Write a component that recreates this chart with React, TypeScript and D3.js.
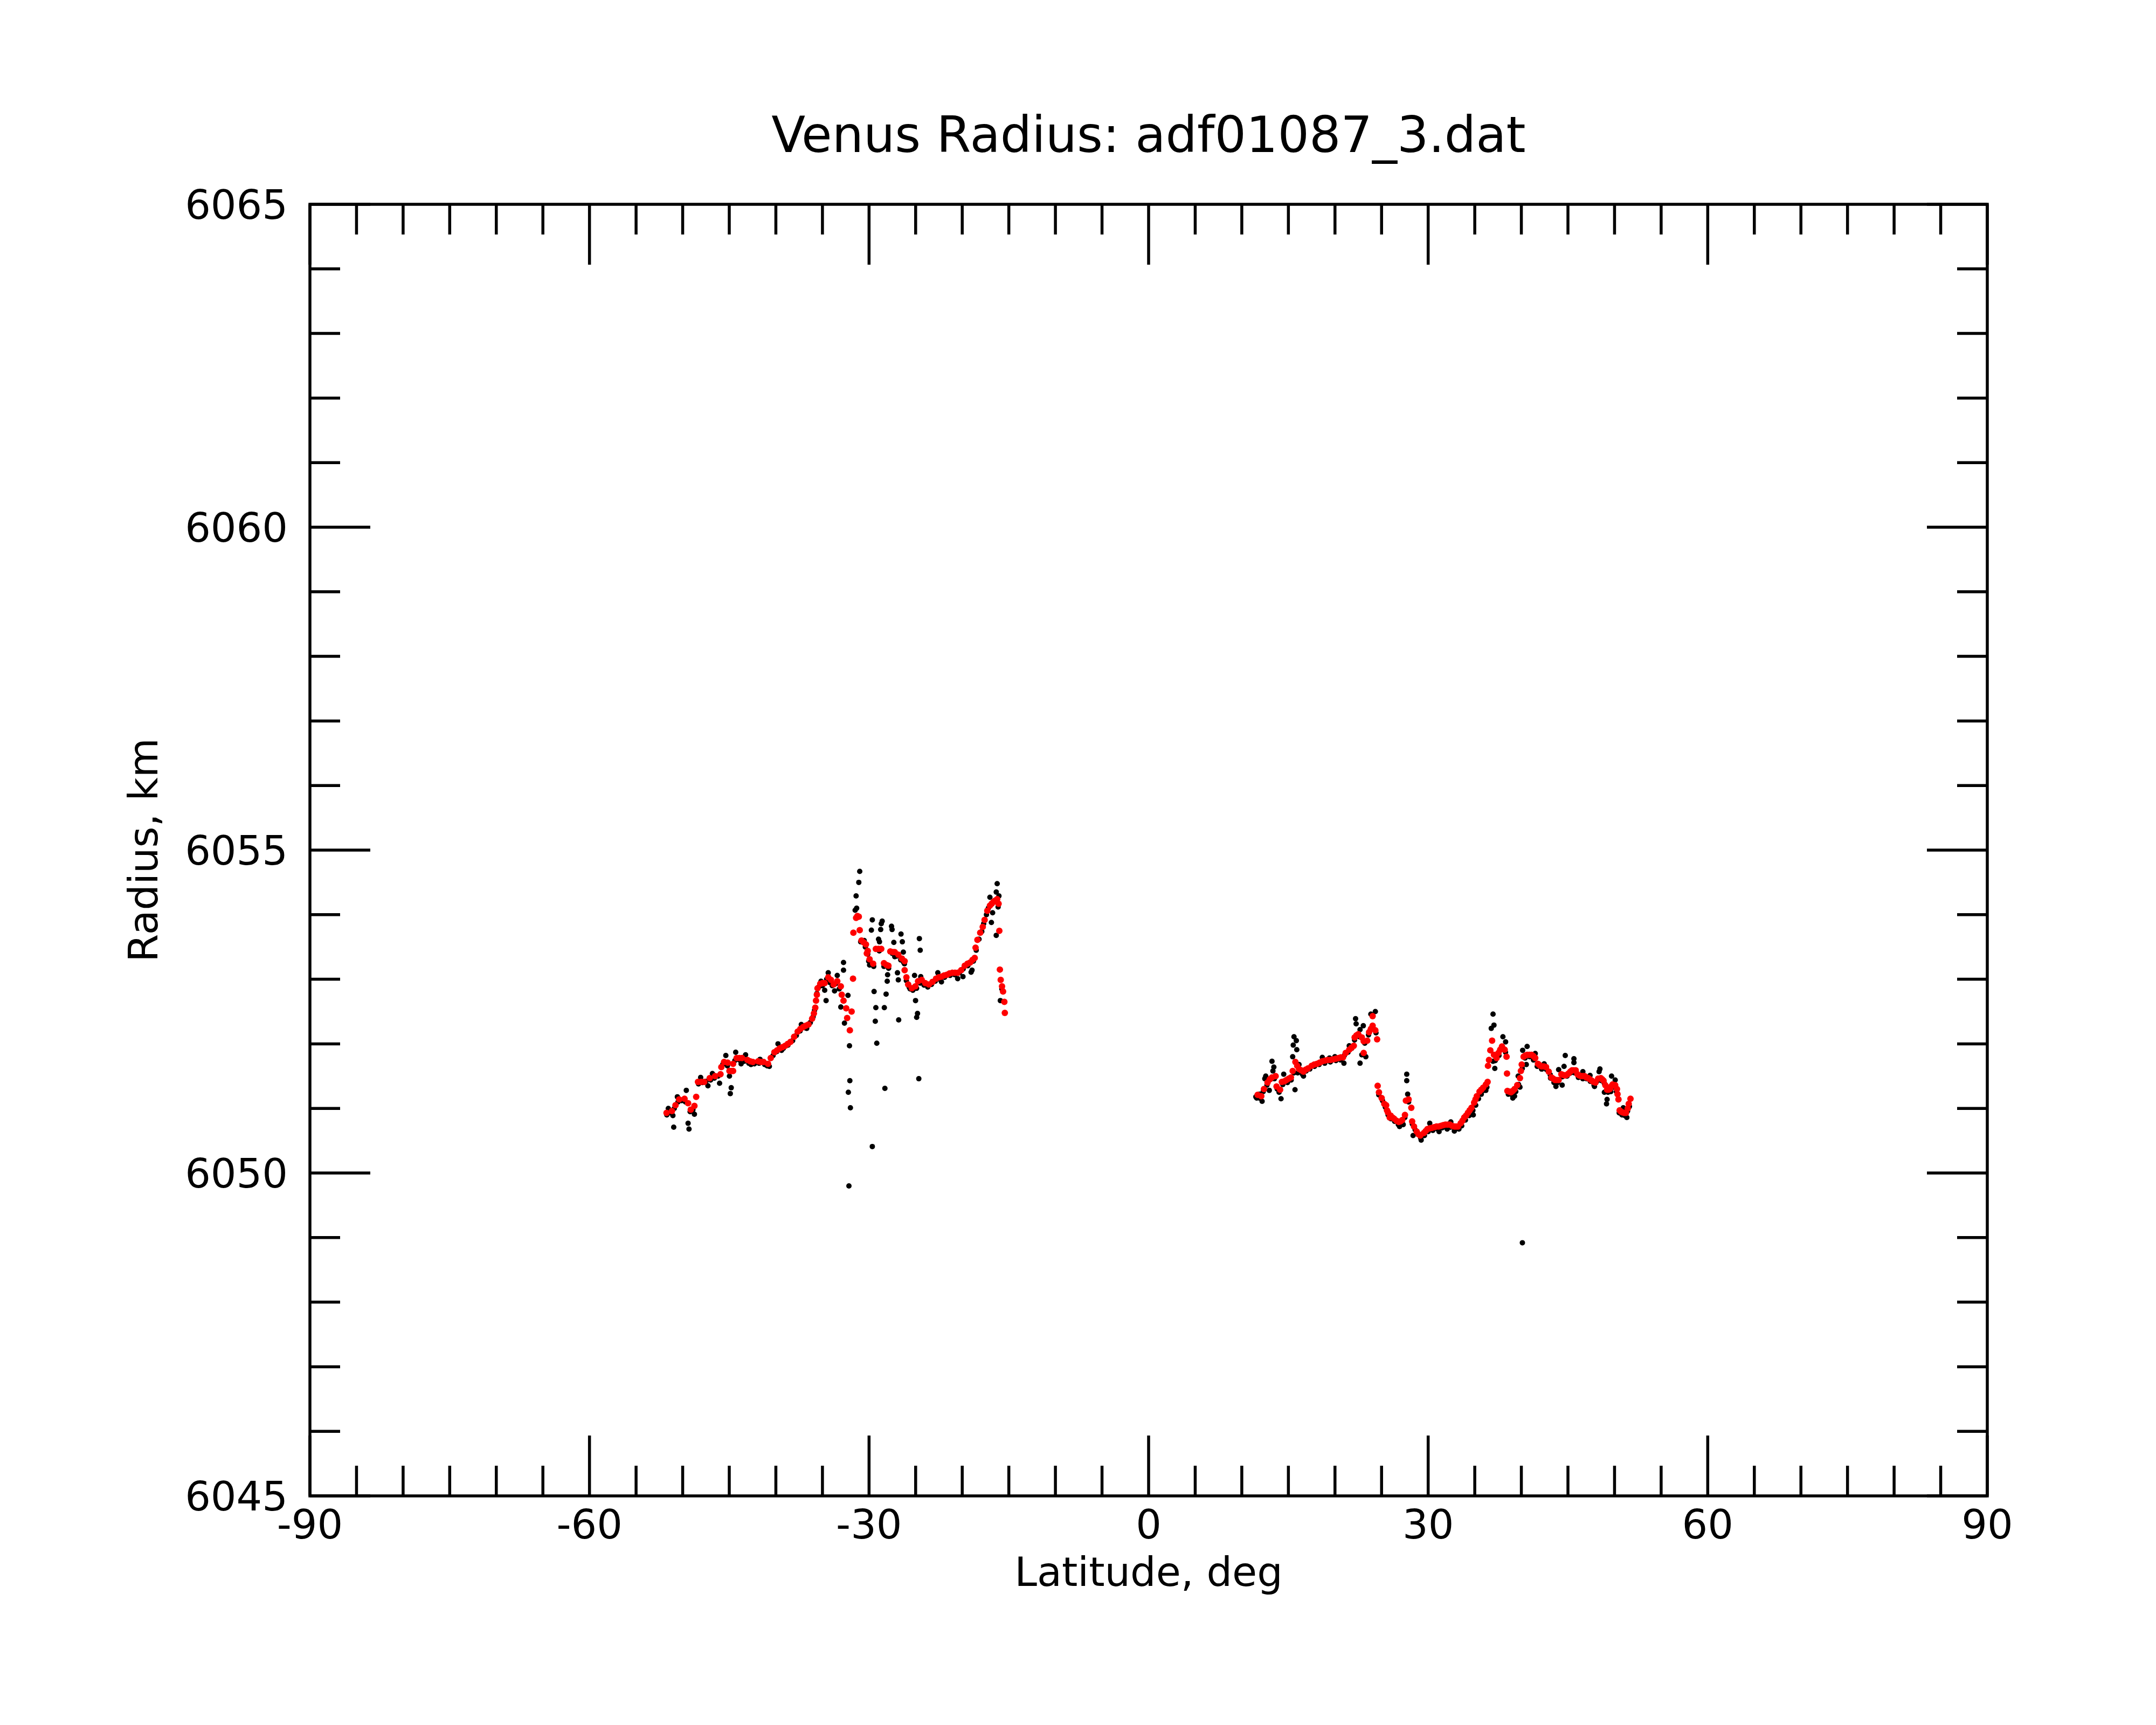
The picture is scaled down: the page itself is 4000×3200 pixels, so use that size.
import React from 'react';
import * as d3 from 'd3';

// ---- Data (latitude deg, radius km) ----
const title = 'Venus Radius: adf01087_3.dat';
const xLabel = 'Latitude, deg';
const yLabel = 'Radius, km';
const xTickLabels = [-90, -60, -30, 0, 30, 60, 90];
const yTickLabels = [6045, 6050, 6055, 6060, 6065];

// smoothed (red) points, southern segment
const redSouth: [number, number][] = [
  [-51.73, 6050.93], [-51.15, 6050.96], [-50.77, 6051.05], [-50.38, 6051.14], [-49.80, 6051.15],
  [-49.42, 6051.08], [-49.13, 6050.98], [-48.74, 6051.04], [-48.55, 6051.18], [-48.36, 6051.41],
  [-48.02, 6051.41], [-47.68, 6051.41], [-47.10, 6051.47], [-46.52, 6051.50], [-45.94, 6051.53],
  [-45.85, 6051.64], [-45.56, 6051.72], [-45.17, 6051.71], [-44.98, 6051.58], [-44.78, 6051.58],
  [-44.59, 6051.58], [-44.59, 6051.69], [-44.21, 6051.78], [-43.92, 6051.78], [-43.63, 6051.78],
  [-43.05, 6051.75], [-42.76, 6051.73], [-42.47, 6051.72], [-41.90, 6051.73], [-41.60, 6051.72],
  [-41.32, 6051.72], [-40.84, 6051.69], [-40.55, 6051.78], [-40.16, 6051.87], [-39.87, 6051.90],
  [-39.58, 6051.93], [-39.29, 6051.95], [-39.00, 6051.97], [-38.72, 6052.00], [-38.43, 6052.03],
  [-38.04, 6052.11], [-37.66, 6052.19], [-37.37, 6052.23], [-37.08, 6052.26], [-36.79, 6052.28],
  [-36.50, 6052.30], [-36.11, 6052.39], [-35.92, 6052.47], [-35.77, 6052.56], [-35.69, 6052.67],
  [-35.60, 6052.76], [-35.53, 6052.86], [-35.24, 6052.93], [-35.00, 6052.94], [-34.76, 6052.94],
  [-34.38, 6053.03], [-34.09, 6052.99], [-33.80, 6052.92], [-33.41, 6052.97], [-33.03, 6052.89],
  [-32.93, 6052.76], [-32.74, 6052.67], [-32.45, 6052.55], [-32.35, 6052.40], [-32.06, 6052.21],
  [-31.87, 6052.50], [-31.72, 6053.01],
  [-31.68, 6053.72], [-31.39, 6053.95], [-31.25, 6053.98], [-31.10, 6053.97], [-31.00, 6053.76],
  [-30.81, 6053.60], [-30.57, 6053.57], [-30.33, 6053.54], [-30.24, 6053.40], [-30.14, 6053.44],
  [-29.94, 6053.31], [-29.56, 6053.24], [-29.27, 6053.47], [-28.98, 6053.47], [-28.69, 6053.47],
  [-28.40, 6053.25], [-28.11, 6053.22], [-27.92, 6053.21], [-27.72, 6053.43], [-27.43, 6053.42],
  [-27.24, 6053.42], [-26.86, 6053.38], [-26.47, 6053.32], [-26.18, 6053.28], [-26.18, 6053.14],
  [-25.99, 6053.03], [-25.80, 6052.92], [-25.41, 6052.86], [-25.03, 6052.89], [-24.74, 6052.97],
  [-24.35, 6052.99], [-23.97, 6052.94], [-23.58, 6052.92], [-23.19, 6052.96], [-22.81, 6053.01],
  [-22.52, 6053.03], [-22.23, 6053.04], [-21.94, 6053.06], [-21.65, 6053.07], [-21.36, 6053.09],
  [-21.07, 6053.10], [-20.78, 6053.10], [-20.49, 6053.10], [-20.11, 6053.14], [-19.73, 6053.21],
  [-19.44, 6053.24], [-19.15, 6053.26], [-18.90, 6053.30], [-18.66, 6053.33], [-18.57, 6053.49],
  [-18.37, 6053.61], [-18.07, 6053.72], [-17.80, 6053.81], [-17.60, 6053.92], [-17.31, 6054.06],
  [-17.03, 6054.14], [-16.84, 6054.17], [-16.64, 6054.20], [-16.45, 6054.22], [-16.25, 6054.24],
  [-16.10, 6054.17], [-16.02, 6053.75], [-15.96, 6053.15], [-15.87, 6052.99], [-15.73, 6052.89],
  [-15.62, 6052.81], [-15.48, 6052.65], [-15.43, 6052.48],
];

// smoothed (red) points, northern segment
const redNorth: [number, number][] = [
  [11.70, 6051.21], [12.09, 6051.19], [12.38, 6051.30], [12.76, 6051.40], [13.00, 6051.45],
  [13.24, 6051.48], [13.63, 6051.50], [13.73, 6051.34], [14.11, 6051.29], [14.30, 6051.41],
  [14.55, 6051.42], [14.79, 6051.44], [15.03, 6051.46], [15.27, 6051.48], [15.46, 6051.58],
  [15.75, 6051.72], [15.95, 6051.66], [16.14, 6051.61], [16.38, 6051.59], [16.62, 6051.57],
  [16.86, 6051.60], [17.10, 6051.62], [17.49, 6051.66], [17.78, 6051.68], [18.06, 6051.69],
  [18.35, 6051.71], [18.64, 6051.73], [18.93, 6051.74], [19.22, 6051.75], [19.51, 6051.75],
  [19.80, 6051.76], [20.09, 6051.77], [20.38, 6051.78], [20.62, 6051.79], [20.86, 6051.79],
  [21.15, 6051.86], [21.53, 6051.91], [21.78, 6051.94], [22.02, 6051.97], [22.11, 6052.10],
  [22.30, 6052.13], [22.50, 6052.15], [22.88, 6052.10], [23.08, 6052.04], [23.08, 6051.86],
  [23.46, 6052.05], [23.66, 6052.18], [23.85, 6052.23], [24.04, 6052.28], [24.04, 6052.43],
  [24.33, 6052.21], [24.52, 6052.07], [24.58, 6051.35], [24.72, 6051.25], [25.01, 6051.16],
  [25.29, 6051.07], [25.49, 6051.05], [25.58, 6050.97], [25.68, 6050.94], [25.87, 6050.86],
  [25.97, 6050.89], [26.16, 6050.86], [26.35, 6050.84], [26.60, 6050.81], [26.84, 6050.79],
  [27.03, 6050.80], [27.22, 6050.82], [27.51, 6050.90], [27.61, 6051.12], [27.90, 6051.14],
  [28.19, 6051.01], [28.28, 6050.80], [28.48, 6050.72], [28.77, 6050.64], [28.96, 6050.60],
  [29.15, 6050.58], [29.54, 6050.62], [29.73, 6050.65], [29.92, 6050.68], [30.16, 6050.69],
  [30.40, 6050.70], [30.65, 6050.71], [30.89, 6050.72], [31.13, 6050.72], [31.37, 6050.73],
  [31.61, 6050.74], [31.85, 6050.75], [32.09, 6050.75], [32.33, 6050.75], [32.57, 6050.73],
  [32.81, 6050.72], [33.00, 6050.72], [33.20, 6050.72], [33.49, 6050.77], [33.68, 6050.81],
  [33.87, 6050.86], [34.07, 6050.89], [34.26, 6050.93], [34.45, 6050.97], [34.65, 6051.01],
  [34.93, 6051.09], [35.08, 6051.14], [35.22, 6051.19], [35.51, 6051.26], [35.70, 6051.29],
  [35.90, 6051.32], [36.19, 6051.37], [36.38, 6051.41], [36.42, 6051.66], [36.53, 6051.75],
  [36.67, 6051.90], [36.86, 6052.05], [37.06, 6051.83], [37.34, 6051.78], [37.54, 6051.86],
  [37.73, 6051.91], [37.92, 6051.96], [38.21, 6051.91], [38.41, 6051.80], [38.46, 6051.54],
  [38.50, 6051.27], [38.70, 6051.26], [38.89, 6051.25], [39.08, 6051.27], [39.27, 6051.30],
  [39.56, 6051.36], [39.85, 6051.47], [39.95, 6051.58], [40.04, 6051.68], [40.24, 6051.80],
  [40.43, 6051.82], [40.62, 6051.83], [40.86, 6051.83], [41.10, 6051.83], [41.30, 6051.81],
  [41.49, 6051.78], [41.78, 6051.69], [41.97, 6051.67], [42.17, 6051.65], [42.41, 6051.65],
  [42.65, 6051.64], [42.94, 6051.57], [43.23, 6051.48], [43.42, 6051.46], [43.61, 6051.44],
  [43.80, 6051.44], [44.00, 6051.44], [44.29, 6051.53], [44.48, 6051.52], [44.67, 6051.51],
  [44.86, 6051.52], [45.06, 6051.54], [45.25, 6051.57], [45.44, 6051.59], [45.63, 6051.59],
  [45.83, 6051.59], [46.02, 6051.53], [46.21, 6051.51], [46.41, 6051.50], [46.60, 6051.50],
  [46.79, 6051.50], [46.98, 6051.48], [47.18, 6051.47], [47.37, 6051.45], [47.56, 6051.43],
  [47.75, 6051.41], [47.95, 6051.40], [48.24, 6051.46], [48.53, 6051.47], [48.68, 6051.45],
  [48.82, 6051.43], [49.01, 6051.36], [49.20, 6051.29], [49.35, 6051.29], [49.49, 6051.30],
  [49.64, 6051.34], [49.78, 6051.37], [50.07, 6051.36], [50.26, 6051.30], [50.32, 6051.22],
  [50.42, 6051.14], [50.55, 6050.97], [50.70, 6050.95], [50.84, 6050.94], [51.04, 6050.93],
  [51.23, 6050.93], [51.42, 6051.00], [51.52, 6051.07], [51.71, 6051.15],
];

// raw (black) points, southern segment
const blackSouth: [number, number][] = [
  [-51.70, 6050.90], [-51.54, 6051.00], [-51.30, 6050.93], [-51.05, 6050.89], [-50.96, 6050.71],
  [-50.90, 6051.00], [-50.57, 6051.18], [-50.50, 6051.10], [-50.10, 6051.12], [-49.70, 6051.10],
  [-49.61, 6051.28], [-49.42, 6050.77], [-49.32, 6050.68], [-49.20, 6050.95], [-48.90, 6050.98],
  [-48.74, 6050.91], [-48.30, 6051.38], [-48.07, 6051.48], [-47.90, 6051.40], [-47.50, 6051.42],
  [-47.29, 6051.35], [-47.00, 6051.44], [-46.81, 6051.54], [-46.60, 6051.47], [-46.20, 6051.50],
  [-46.04, 6051.39], [-45.70, 6051.68], [-45.37, 6051.82], [-45.20, 6051.66], [-44.98, 6051.50],
  [-44.89, 6051.23], [-44.79, 6051.32], [-44.40, 6051.74], [-44.31, 6051.87], [-43.90, 6051.75],
  [-43.73, 6051.69], [-43.40, 6051.73], [-43.25, 6051.83], [-42.90, 6051.70], [-42.67, 6051.68],
  [-42.30, 6051.69], [-41.80, 6051.70], [-41.70, 6051.76], [-41.20, 6051.68], [-40.93, 6051.66],
  [-40.70, 6051.65], [-40.30, 6051.82], [-39.90, 6051.88], [-39.77, 6052.00], [-39.39, 6051.90],
  [-39.20, 6051.93], [-38.70, 6051.98], [-38.20, 6052.05], [-37.80, 6052.13], [-37.40, 6052.20],
  [-37.27, 6052.30], [-36.90, 6052.25], [-36.69, 6052.24], [-36.30, 6052.33], [-36.00, 6052.42],
  [-35.85, 6052.52], [-35.60, 6052.78], [-35.40, 6052.88], [-35.15, 6052.97], [-35.00, 6052.90],
  [-34.76, 6052.83], [-34.61, 6052.67], [-34.55, 6053.00], [-34.38, 6053.10], [-34.20, 6052.95],
  [-33.95, 6052.90], [-33.70, 6052.82], [-33.60, 6052.93], [-33.41, 6053.06], [-33.20, 6052.85],
  [-33.03, 6052.57], [-32.74, 6053.26], [-32.74, 6053.14], [-32.64, 6052.32], [-32.26, 6052.75],
  [-32.22, 6051.25], [-32.16, 6049.80], [-32.10, 6051.97], [-32.06, 6051.43], [-32.00, 6051.01],
  [-31.49, 6054.07], [-31.39, 6054.29], [-31.33, 6054.10], [-31.10, 6054.50], [-31.00, 6054.67],
  [-30.90, 6053.58], [-30.52, 6053.60], [-30.40, 6053.50], [-30.14, 6053.39], [-30.04, 6053.28],
  [-29.94, 6053.22], [-29.90, 6053.27], [-29.75, 6053.76], [-29.65, 6053.92], [-29.65, 6050.41],
  [-29.50, 6053.20], [-29.46, 6052.81], [-29.33, 6052.35], [-29.27, 6052.56], [-29.17, 6052.01],
  [-28.98, 6053.62], [-28.90, 6053.44], [-28.88, 6053.58], [-28.75, 6053.77], [-28.69, 6053.86],
  [-28.59, 6053.90], [-28.40, 6053.20], [-28.36, 6052.56], [-28.30, 6051.31], [-28.17, 6052.77],
  [-28.05, 6052.97], [-28.01, 6053.07], [-27.90, 6053.17], [-27.59, 6053.82], [-27.53, 6053.77],
  [-27.50, 6053.40], [-27.34, 6053.57], [-27.24, 6053.35], [-27.00, 6053.36], [-26.95, 6053.10],
  [-26.86, 6052.99], [-26.82, 6052.37], [-26.60, 6053.30], [-26.57, 6053.70], [-26.43, 6053.58],
  [-26.32, 6053.42], [-26.28, 6053.26], [-26.20, 6053.24], [-26.00, 6052.98], [-25.70, 6052.88],
  [-25.60, 6052.85], [-25.30, 6052.83], [-25.12, 6053.06], [-25.01, 6052.67], [-24.90, 6052.86],
  [-24.89, 6052.41], [-24.80, 6052.47], [-24.66, 6051.46], [-24.60, 6053.63], [-24.51, 6053.45],
  [-24.50, 6052.94], [-24.45, 6053.04], [-24.10, 6052.91], [-23.70, 6052.88], [-23.30, 6052.92],
  [-22.90, 6052.97], [-22.62, 6053.10], [-22.40, 6053.00], [-22.23, 6052.96], [-21.90, 6053.03],
  [-21.30, 6053.06], [-20.80, 6053.07], [-20.49, 6053.01], [-20.30, 6053.10], [-19.92, 6053.04],
  [-19.90, 6053.16], [-19.40, 6053.21], [-19.05, 6053.11], [-18.95, 6053.14], [-18.80, 6053.28],
  [-18.50, 6053.45], [-18.20, 6053.62], [-17.90, 6053.74], [-17.70, 6053.86], [-17.40, 6054.00],
  [-17.20, 6054.10], [-17.03, 6054.27], [-16.87, 6053.88], [-16.80, 6054.17], [-16.74, 6054.03],
  [-16.40, 6054.20], [-16.35, 6054.35], [-16.35, 6053.68], [-16.25, 6054.48], [-16.15, 6054.12],
  [-16.06, 6054.29], [-15.91, 6052.67], [-15.75, 6052.85],
];

// raw (black) points, northern segment
const blackNorth: [number, number][] = [
  [11.51, 6051.18], [11.60, 6051.16], [11.89, 6051.16], [11.90, 6051.22], [12.18, 6051.11],
  [12.30, 6051.26], [12.47, 6051.46], [12.57, 6051.50], [12.70, 6051.36], [12.95, 6051.28],
  [13.10, 6051.45], [13.24, 6051.73], [13.34, 6051.58], [13.44, 6051.64], [13.50, 6051.46],
  [13.80, 6051.30], [14.00, 6051.25], [14.21, 6051.15], [14.40, 6051.37], [14.50, 6051.53],
  [14.90, 6051.40], [15.30, 6051.44], [15.46, 6051.80], [15.52, 6051.98], [15.60, 6052.11],
  [15.60, 6051.55], [15.71, 6051.29], [15.85, 6052.05], [15.90, 6051.91], [16.00, 6051.55],
  [16.14, 6051.68], [16.50, 6051.53], [16.62, 6051.50], [16.90, 6051.58], [17.30, 6051.61],
  [17.80, 6051.65], [18.30, 6051.68], [18.64, 6051.79], [18.90, 6051.70], [19.41, 6051.78],
  [19.50, 6051.72], [19.99, 6051.80], [20.10, 6051.74], [20.60, 6051.75], [20.96, 6051.70],
  [21.00, 6051.82], [21.40, 6051.87], [21.53, 6051.97], [21.80, 6051.93], [22.10, 6052.06],
  [22.21, 6052.39], [22.27, 6052.31], [22.60, 6052.11], [22.69, 6052.22], [22.69, 6051.70],
  [22.88, 6051.83], [23.04, 6052.28], [23.20, 6052.01], [23.31, 6051.80], [23.60, 6052.14],
  [23.85, 6052.46], [24.10, 6052.24], [24.33, 6052.50], [24.40, 6052.17], [24.70, 6051.21],
  [25.10, 6051.12], [25.40, 6051.02], [25.70, 6050.90], [26.00, 6050.84], [26.16, 6050.86],
  [26.40, 6050.80], [26.80, 6050.75], [26.93, 6050.72], [27.20, 6050.78], [27.32, 6050.75],
  [27.50, 6050.86], [27.70, 6051.53], [27.70, 6051.43], [27.80, 6051.22], [27.90, 6051.10],
  [28.30, 6050.76], [28.38, 6050.58], [28.60, 6050.67], [28.90, 6050.60], [29.20, 6050.54],
  [29.25, 6050.51], [29.60, 6050.58], [30.00, 6050.64], [30.17, 6050.77], [30.50, 6050.66],
  [31.00, 6050.68], [31.17, 6050.64], [31.50, 6050.70], [31.90, 6050.71], [32.04, 6050.68],
  [32.40, 6050.71], [32.43, 6050.79], [32.81, 6050.65], [32.90, 6050.68], [33.30, 6050.68],
  [33.60, 6050.73], [34.00, 6050.82], [34.40, 6050.89], [34.80, 6050.97], [34.84, 6050.90],
  [35.10, 6051.05], [35.40, 6051.15], [35.70, 6051.22], [36.00, 6051.28], [36.19, 6051.28],
  [36.30, 6051.33], [36.77, 6052.24], [36.96, 6052.46], [36.96, 6051.73], [37.06, 6052.29],
  [37.15, 6051.62], [37.20, 6051.74], [37.60, 6051.82], [38.00, 6051.92], [38.02, 6052.11],
  [38.30, 6051.87], [38.31, 6052.03], [38.60, 6051.22], [39.00, 6051.21], [39.08, 6051.16],
  [39.27, 6051.19], [39.40, 6051.26], [39.66, 6051.50], [39.70, 6051.37], [39.85, 6051.33],
  [40.10, 6051.62], [40.11, 6048.92], [40.14, 6051.90], [40.40, 6051.78], [40.53, 6051.68],
  [40.62, 6051.96], [40.90, 6051.80], [41.30, 6051.75], [41.49, 6051.85], [41.70, 6051.65],
  [42.17, 6051.61], [42.20, 6051.61], [42.45, 6051.69], [42.70, 6051.60], [43.10, 6051.52],
  [43.13, 6051.47], [43.50, 6051.40], [43.71, 6051.34], [43.90, 6051.40], [44.00, 6051.60],
  [44.38, 6051.36], [44.40, 6051.49], [44.58, 6051.65], [44.71, 6051.82], [44.90, 6051.50],
  [45.30, 6051.55], [45.64, 6051.77], [45.64, 6051.71], [45.70, 6051.55], [46.12, 6051.48],
  [46.20, 6051.49], [46.60, 6051.57], [46.60, 6051.46], [47.00, 6051.46], [47.37, 6051.51],
  [47.40, 6051.42], [47.80, 6051.36], [47.85, 6051.34], [48.10, 6051.42], [48.34, 6051.57],
  [48.43, 6051.61], [48.60, 6051.43], [48.90, 6051.39], [48.91, 6051.25], [49.14, 6051.07],
  [49.20, 6051.14], [49.30, 6051.25], [49.60, 6051.26], [49.68, 6051.50], [49.90, 6051.33],
  [50.07, 6051.44], [50.20, 6051.26], [50.50, 6050.93], [50.80, 6050.90], [50.94, 6051.01],
  [51.10, 6050.89], [51.32, 6050.86], [51.40, 6050.96], [51.60, 6051.03],
];

// ---- Component ----
export default function App() {
  const W = 4000;
  const H = 3200;
  const x = d3.scaleLinear().domain([-90, 90]).range([575, 3687]);
  const y = d3.scaleLinear().domain([6045, 6065]).range([2775, 379]);
  const [x0, x1] = x.range();
  const [y0, y1] = y.range(); // y0 bottom, y1 top
  const xTicks = d3.range(-90, 90.001, 5);
  const yTicks = d3.range(6045, 6065.001, 1);
  const font = "'DejaVu Sans', sans-serif";
  const sw = 5.5;
  const minorLen = 56;
  const majorLen = 112;
  const labelSize = 75;

  const black = [...blackSouth, ...blackNorth];
  const red = [...redSouth, ...redNorth];

  return (
    <svg
      width={W}
      height={H}
      viewBox={`0 0 ${W} ${H}`}
      style={{ position: 'absolute', left: 0, top: 0, background: '#fff' }}
    >
      <rect x={0} y={0} width={W} height={H} fill="#fff" />
      <text x={(x0 + x1) / 2} y={282} textAnchor="middle" fontFamily={font} fontSize={92} fill="#000">
        {title}
      </text>

      {/* data */}
      <g>
        {black.map((d, i) => (
          <circle key={'b' + i} cx={x(d[0])} cy={y(d[1])} r={5} fill="#000" />
        ))}
      </g>
      <g>
        {red.map((d, i) => (
          <circle key={'r' + i} cx={x(d[0])} cy={y(d[1])} r={6} fill="#ff0000" />
        ))}
      </g>

      {/* ticks */}
      <g stroke="#000" strokeWidth={sw}>
        {xTicks.map((v) => {
          const len = Math.abs(v % 30) < 1e-9 ? majorLen : minorLen;
          const px = x(v);
          return (
            <g key={'xt' + v}>
              <line x1={px} x2={px} y1={y0} y2={y0 - len} />
              <line x1={px} x2={px} y1={y1} y2={y1 + len} />
            </g>
          );
        })}
        {yTicks.map((v) => {
          const len = Math.abs(v % 5) < 1e-9 ? majorLen : minorLen;
          const py = y(v);
          return (
            <g key={'yt' + v}>
              <line x1={x0} x2={x0 + len} y1={py} y2={py} />
              <line x1={x1} x2={x1 - len} y1={py} y2={py} />
            </g>
          );
        })}
      </g>
      <rect x={x0} y={y1} width={x1 - x0} height={y0 - y1} fill="none" stroke="#000" strokeWidth={sw} />

      {/* tick labels */}
      <g fontFamily={font} fontSize={labelSize} fill="#000">
        {xTickLabels.map((v) => (
          <text key={'xl' + v} x={x(v)} y={2854} textAnchor="middle">
            {String(v)}
          </text>
        ))}
        {yTickLabels.map((v) => (
          <text key={'yl' + v} x={534} y={y(v) + 27} textAnchor="end">
            {String(v)}
          </text>
        ))}
      </g>

      <text x={(x0 + x1) / 2} y={2942} textAnchor="middle" fontFamily={font} fontSize={labelSize} fill="#000">
        {xLabel}
      </text>
      <text
        transform={`translate(292, ${(y0 + y1) / 2}) rotate(-90)`}
        textAnchor="middle"
        fontFamily={font}
        fontSize={labelSize}
        fill="#000"
      >
        {yLabel}
      </text>
    </svg>
  );
}
